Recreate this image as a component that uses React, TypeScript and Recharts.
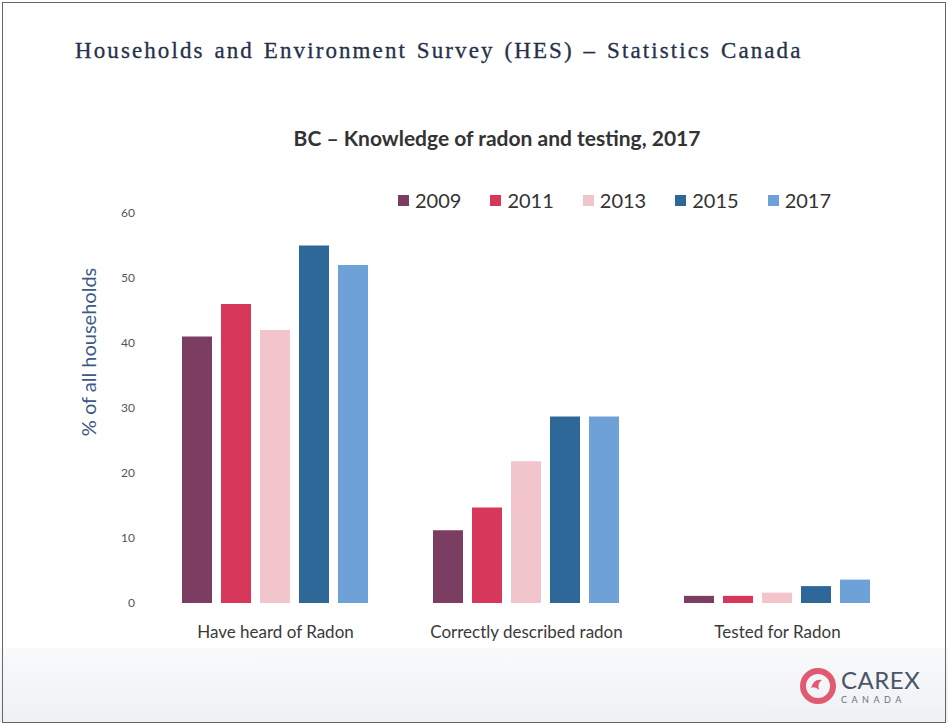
import React from 'react';
import { BarChart, Bar, XAxis, YAxis, Legend } from 'recharts';

const categories = ['Have heard of Radon', 'Correctly described radon', 'Tested for Radon'];
const years = ['2009', '2011', '2013', '2015', '2017'];
const v2009 = [41, 11.2, 1.1];
const v2011 = [46, 14.7, 1.1];
const v2013 = [42, 21.8, 1.6];
const v2015 = [55, 28.7, 2.6];
const v2017 = [52, 28.7, 3.6];
const yTicks = [0, 10, 20, 30, 40, 50, 60];
const colors = ['#7b3d62', '#d8375c', '#f2c5cd', '#2d6898', '#6ea1d8'];

const series = [v2009, v2011, v2013, v2015, v2017];
const data = categories.map((name, i) => {
  const row: any = { name };
  years.forEach((y, j) => {
    row[y] = series[j][i];
  });
  return row;
});

const sans = 'Lato, "Open Sans", sans-serif';

const LegendContent = ({ payload }: any) => (
  <div style={{ display: 'flex', fontFamily: sans, fontSize: 20, color: '#333', height: 24 }}>
    {(payload || []).map((p: any) => (
      <div key={p.value} style={{ display: 'flex', alignItems: 'center', marginRight: 29 }}>
        <span style={{ width: 11, height: 11, background: p.color, display: 'inline-block', marginRight: 6 }} />
        <span>{p.value}</span>
      </div>
    ))}
  </div>
);

export default function App() {
  return (
    <div
      style={{
        position: 'absolute',
        top: 0,
        left: 0,
        width: 948,
        height: 725,
        background: '#fff',
        overflow: 'hidden',
      }}
    >
      {/* footer band */}
      <div
        style={{
          position: 'absolute',
          left: 0,
          top: 648,
          width: 948,
          height: 74,
          background: 'linear-gradient(#f9fafb, #eef0f4)',
        }}
      />
      <div
        style={{
          position: 'absolute',
          inset: 2,
          border: '1px solid #666',
          pointerEvents: 'none',
        }}
      />
      <div
        style={{
          position: 'absolute',
          left: 75,
          top: 38,
          fontFamily: '"Liberation Serif", "DejaVu Serif", serif',
          fontSize: 23,
          letterSpacing: 2.1,
          wordSpacing: 2,
          color: '#26304a',
          whiteSpace: 'nowrap',
          WebkitTextStroke: '0.3px #26304a',
        }}
      >
        Households and Environment Survey (HES) – Statistics Canada
      </div>
      <div
        style={{
          position: 'absolute',
          left: 0,
          width: 994,
          top: 125,
          textAlign: 'center',
          fontFamily: sans,
          fontWeight: 700,
          fontSize: 21,
          color: '#333',
        }}
      >
        BC – Knowledge of radon and testing, 2017
      </div>
      <div
        style={{
          position: 'absolute',
          left: 88,
          top: 352,
          transform: 'translate(-50%, -50%) rotate(-90deg)',
          fontFamily: sans,
          fontSize: 20,
          color: '#3d5a86',
          whiteSpace: 'nowrap',
        }}
      >
        % of all households
      </div>
      <div style={{ position: 'absolute', left: 0, top: 0 }}>
        <BarChart
          width={948}
          height={725}
          data={data}
          margin={{ top: 189, right: 45, left: 90, bottom: 92 }}
          barCategoryGap={32}
          barGap={9}
        >
          <XAxis
            dataKey="name"
            tickLine={false}
            axisLine={false}
            tickMargin={17}
            height={30}
            tick={{ fill: '#3a3a3a', fontSize: 17, fontFamily: sans }}
          />
          <YAxis
            width={60}
            domain={[0, 60]}
            ticks={yTicks}
            tickLine={false}
            axisLine={false}
            tickMargin={9}
            tick={{ fill: '#555', fontSize: 12, fontFamily: sans }}
          />
          <Legend
            verticalAlign="top"
            content={<LegendContent />}
            wrapperStyle={{ position: 'absolute', top: 188, left: 398, width: 500 }}
          />
          {years.map((y, i) => (
            <Bar key={y} dataKey={y} fill={colors[i]} isAnimationActive={false} />
          ))}
        </BarChart>
      </div>
      {/* CAREX logo */}
      <div style={{ position: 'absolute', left: 800, top: 668, display: 'flex', alignItems: 'center' }}>
        <svg width={36} height={36} viewBox="0 0 36 36">
          <circle cx={18} cy={18} r={15} fill="none" stroke="#e05a72" strokeWidth={6} />
          <path d="M11 20 Q14 10 22 12 Q17 15 19 22 Q15 18 11 20 Z" fill="#e05a72" />
        </svg>
        <div style={{ marginLeft: 5, fontFamily: sans, lineHeight: 1 }}>
          <div style={{ fontSize: 24, color: '#4a5568', letterSpacing: 0.5 }}>CAREX</div>
          <div style={{ fontSize: 9, color: '#6b7280', letterSpacing: 4.5, marginTop: 3 }}>CANADA</div>
        </div>
      </div>
    </div>
  );
}
